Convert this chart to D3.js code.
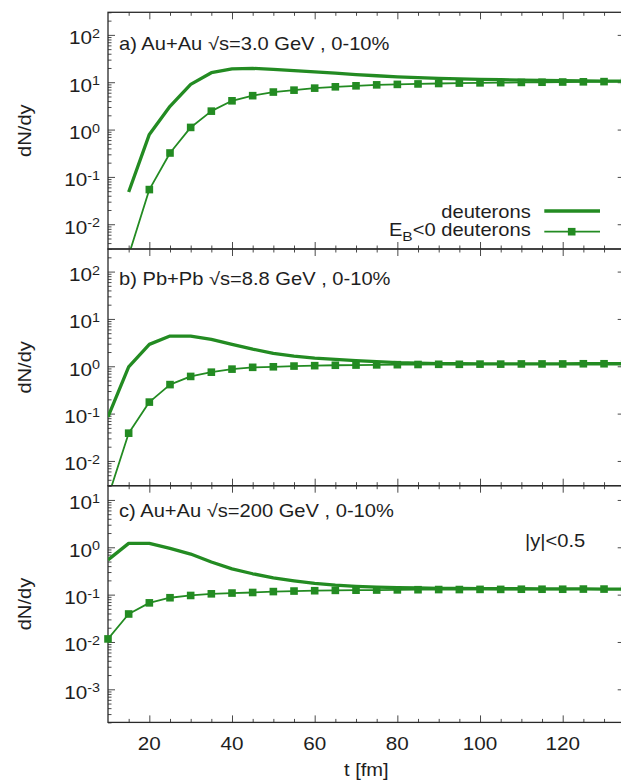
<!DOCTYPE html>
<html>
<head>
<meta charset="utf-8">
<script src="https://cdn.jsdelivr.net/npm/d3@7"></script>
<style>
  body { margin: 0; background: #fff; }
  svg { display: block; }
  text { font-family: "Liberation Sans", Arial, sans-serif; fill: #1e1e1e; }
</style>
</head>
<body>
<svg id="chart" width="621" height="782"></svg>
<script>
// ---- data: deuteron yields dN/dy (|y|<0.5) vs time t [fm] ----
const timesA = [15,20,25,30,35,40,45,50,55,60,65,70,75,80,85,90,95,100,105,110,115,120,125,130,135];
const deutA  = [0.048,0.79,3.1,9.0,15.9,19.2,19.6,18.7,17.6,16.5,15.5,14.5,13.7,13.0,12.5,12.1,11.8,11.5,11.3,11.1,10.95,10.8,10.7,10.6,10.5];
const boundA = [0.0022,0.054,0.32,1.11,2.45,4.05,5.2,6.2,6.8,7.5,8.0,8.4,8.8,9.0,9.2,9.4,9.6,9.7,9.8,9.9,10.0,10.1,10.2,10.3,10.4];

const timesBC = [10,15,20,25,30,35,40,45,50,55,60,65,70,75,80,85,90,95,100,105,110,115,120,125,130,135];
const deutB  = [0.085,0.97,2.9,4.35,4.35,3.7,2.9,2.3,1.87,1.64,1.49,1.4,1.32,1.25,1.19,1.16,1.14,1.13,1.12,1.12,1.12,1.12,1.12,1.13,1.13,1.13];
const boundB = [0.0017,0.0386,0.175,0.41,0.61,0.75,0.87,0.95,0.975,1.01,1.03,1.05,1.06,1.07,1.08,1.09,1.10,1.10,1.11,1.11,1.12,1.12,1.12,1.13,1.13,1.13];

const deutC  = [0.54,1.21,1.21,0.95,0.72,0.49,0.35,0.276,0.227,0.196,0.173,0.159,0.15,0.144,0.14,0.138,0.136,0.135,0.134,0.133,0.133,0.132,0.132,0.132,0.131,0.131];
const boundC = [0.0116,0.039,0.067,0.086,0.096,0.104,0.108,0.111,0.116,0.119,0.121,0.123,0.124,0.125,0.126,0.127,0.128,0.128,0.129,0.129,0.13,0.13,0.13,0.131,0.131,0.131];

const titles = ["a) Au+Au \u221As=3.0 GeV , 0-10%", "b) Pb+Pb \u221As=8.8 GeV , 0-10%", "c) Au+Au \u221As=200 GeV , 0-10%"];
const yDomains = [[0.003, 300], [0.003, 300], [0.0002, 20]];
const xDomain = [10, 135];
const xMajorTicks = [20, 40, 60, 80, 100, 120];
const xMinorTicks = [15, 25, 30, 35, 45, 50, 55, 65, 70, 75, 85, 90, 95, 105, 110, 115, 125, 130];
const legendLabels = ["deuterons", "E", "B", "<0 deuterons"];
const rapidityLabel = "|y|<0.5";
const yTitle = "dN/dy";
const xTitle = "t [fm]";

// ---- layout ----
const left = 108, right = 624.7;
const panelTops = [12.3, 249, 485.7];
const panelH = 236.7;
const green = "#238b22";
const frameCol = "#2a2a2a", tickCol = "#4a4a4a";
const FS = 17.5, SX = 1.15;

const svg = d3.select("#chart");
const x = d3.scaleLinear().domain(xDomain).range([left, right]);

// text helper: horizontally widened sans glyphs
function label(parent, px, py, anchor, rot, size) {
  return parent.append("text")
    .attr("transform", `translate(${px},${py})` + (rot ? ` rotate(${rot})` : "") + ` scale(${SX},1)`)
    .attr("text-anchor", anchor || "start")
    .attr("font-size", size || FS);
}

const panels = [
  { t: timesA,  deut: deutA, bound: boundA },
  { t: timesBC, deut: deutB, bound: boundB },
  { t: timesBC, deut: deutC, bound: boundC }
];

panels.forEach((p, i) => {
  const top = panelTops[i], bottom = top + panelH;
  const [ymin, ymax] = yDomains[i];
  const y = d3.scaleLog().domain([ymin, ymax]).range([bottom, top]);
  const g = svg.append("g");

  // log tick positions
  const majors = [], minors = [];
  for (let e = Math.floor(Math.log10(ymin)); e <= Math.ceil(Math.log10(ymax)); e++) {
    const d = Math.pow(10, e);
    if (d >= ymin && d <= ymax) majors.push(d);
    for (let m = 2; m <= 9; m++) {
      const v = m * d;
      if (v >= ymin && v <= ymax) minors.push(v);
    }
  }

  const styleAxis = sel => {
    sel.select(".domain").remove();
    sel.selectAll(".tick line").attr("stroke", tickCol).attr("stroke-width", 1);
  };
  g.append("g").attr("transform", `translate(${left},0)`)
    .call(d3.axisLeft(y).tickValues(majors).tickSize(-7).tickFormat("")).call(styleAxis);
  g.append("g").attr("transform", `translate(${left},0)`)
    .call(d3.axisLeft(y).tickValues(minors).tickSize(-3.5).tickFormat("")).call(styleAxis);
  g.append("g").attr("transform", `translate(${right},0)`)
    .call(d3.axisRight(y).tickValues(majors).tickSize(-7).tickFormat("")).call(styleAxis);
  g.append("g").attr("transform", `translate(${right},0)`)
    .call(d3.axisRight(y).tickValues(minors).tickSize(-3.5).tickFormat("")).call(styleAxis);
  g.append("g").attr("transform", `translate(0,${bottom})`)
    .call(d3.axisBottom(x).tickValues(xMajorTicks).tickSize(-7).tickFormat("")).call(styleAxis);
  g.append("g").attr("transform", `translate(0,${bottom})`)
    .call(d3.axisBottom(x).tickValues(xMinorTicks).tickSize(-3.5).tickFormat("")).call(styleAxis);
  g.append("g").attr("transform", `translate(0,${top})`)
    .call(d3.axisTop(x).tickValues(xMajorTicks).tickSize(-7).tickFormat("")).call(styleAxis);
  g.append("g").attr("transform", `translate(0,${top})`)
    .call(d3.axisTop(x).tickValues(xMinorTicks).tickSize(-3.5).tickFormat("")).call(styleAxis);

  // y tick labels 10^n
  majors.forEach(v => {
    const e = Math.round(Math.log10(v));
    const t = label(g, 100, y(v) + 9.5, "end", 0, 18);
    t.append("tspan").text("10");
    t.append("tspan").attr("font-size", 12.5).attr("dy", -6.5).text(String(e));
  });

  // y axis title
  label(g, 31, top + panelH / 2, "middle", -90).text(yTitle);

  // frame
  g.append("rect").attr("x", left).attr("y", top)
    .attr("width", right - left).attr("height", panelH)
    .attr("fill", "none").attr("stroke", frameCol).attr("stroke-width", 1.3);

  // curves
  const clipId = "clip" + i;
  svg.append("clipPath").attr("id", clipId).append("rect")
    .attr("x", left).attr("y", top).attr("width", right - left).attr("height", panelH);
  const line = d3.line().x(d => x(d[0])).y(d => y(d[1]));
  const plot = g.append("g").attr("clip-path", `url(#${clipId})`);

  const deutPts = p.t.map((t, k) => [t, p.deut[k]]);
  const boundPts = p.t.map((t, k) => [t, p.bound[k]]);

  plot.append("path").attr("d", line(boundPts))
    .attr("fill", "none").attr("stroke", green).attr("stroke-width", 1.8).attr("stroke-linejoin", "round");
  plot.append("path").attr("d", line(deutPts))
    .attr("fill", "none").attr("stroke", green).attr("stroke-width", 3.3).attr("stroke-linejoin", "round");

  const ms = 7.6;
  g.append("g").selectAll("rect")
    .data(boundPts.filter(d => d[1] >= ymin && d[1] <= ymax && d[0] >= xDomain[0] && d[0] <= xDomain[1]))
    .join("rect")
    .attr("x", d => x(d[0]) - ms / 2).attr("y", d => y(d[1]) - ms / 2)
    .attr("width", ms).attr("height", ms).attr("fill", green);

  // panel title
  const titleY = [50, 285, 516.7][i];
  label(g, 119, titleY, "start").text(titles[i]);

  if (i === 0) {
    // legend
    label(g, 530.7, 217.7, "end").text(legendLabels[0]);
    g.append("line").attr("x1", 544.3).attr("x2", 600).attr("y1", 211).attr("y2", 211)
      .attr("stroke", green).attr("stroke-width", 3.3);
    const l2 = label(g, 530.7, 235.7, "end");
    l2.append("tspan").text(legendLabels[1]);
    l2.append("tspan").attr("font-size", 13.5).attr("dy", 5).text(legendLabels[2]);
    l2.append("tspan").attr("dy", -5).text(legendLabels[3]);
    g.append("line").attr("x1", 544.3).attr("x2", 600).attr("y1", 231.7).attr("y2", 231.7)
      .attr("stroke", green).attr("stroke-width", 1.8);
    g.append("rect").attr("x", 571.7 - ms / 2).attr("y", 231.7 - ms / 2)
      .attr("width", ms).attr("height", ms).attr("fill", green);
  }

  if (i === 2) {
    label(g, 525, 546.7, "start").text(rapidityLabel);
    // x tick labels and title
    xMajorTicks.forEach(v => label(g, x(v), 750, "middle", 0, 18).text(v));
    label(g, (left + right) / 2, 776, "middle").text(xTitle);
  }
});
</script>
</body>
</html>
